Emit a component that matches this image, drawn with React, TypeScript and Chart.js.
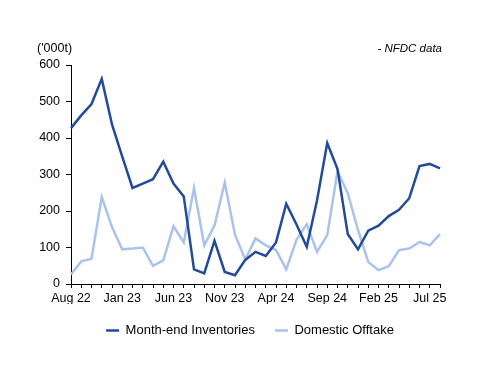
import React, { useEffect, useRef } from "react";
import { Chart, registerables } from "chart.js";

Chart.register(...registerables);

const months: string[] = [
  "Aug 22", "Sep 22", "Oct 22", "Nov 22", "Dec 22",
  "Jan 23", "Feb 23", "Mar 23", "Apr 23", "May 23",
  "Jun 23", "Jul 23", "Aug 23", "Sep 23", "Oct 23",
  "Nov 23", "Dec 23", "Jan 24", "Feb 24", "Mar 24",
  "Apr 24", "May 24", "Jun 24", "Jul 24", "Aug 24",
  "Sep 24", "Oct 24", "Nov 24", "Dec 24", "Jan 25",
  "Feb 25", "Mar 25", "Apr 25", "May 25", "Jun 25",
  "Jul 25", "Aug 25",
];

const shownTickLabels: string[] = [
  "Aug 22", "Jan 23", "Jun 23", "Nov 23", "Apr 24", "Sep 24", "Feb 25", "Jul 25",
];

const inventories: number[] = [
  427, 462, 493, 562, 437, 349, 263, 275, 287, 335,
  275, 240, 40, 29, 118, 33, 24, 66, 88, 77,
  114, 220, 163, 102, 229, 386, 315, 137, 95, 146,
  160, 186, 203, 235, 323, 329, 317,
];

const offtake: number[] = [
  26, 62, 69, 238, 156, 95, 97, 100, 50, 65,
  158, 114, 263, 106, 160, 278, 135, 67, 125, 106,
  93, 40, 121, 164, 88, 134, 309, 249, 148, 60,
  38, 49, 93, 97, 115, 106, 137,
];

const yTicks: number[] = [0, 100, 200, 300, 400, 500, 600];

const FONT = "'Liberation Sans', Arial, sans-serif";

export default function App() {
  const ref = useRef<HTMLCanvasElement | null>(null);

  useEffect(() => {
    if (!ref.current) return;
    const textPlugin = {
      id: "texts",
      afterDraw(chart: any) {
        const ctx = chart.ctx;
        ctx.save();
        ctx.fillStyle = "#000";
        ctx.textBaseline = "middle";
        ctx.font = `12.5px ${FONT}`;
        ctx.textAlign = "left";
        ctx.fillText("('000t)", 37, 49);
        ctx.font = `italic 11.5px ${FONT}`;
        ctx.textAlign = "right";
        ctx.fillText("- NFDC data", 442, 49);
        ctx.restore();
      },
    };

    const chart = new Chart(ref.current, {
      type: "line",
      data: {
        labels: months,
        datasets: [
          {
            label: "Month-end Inventories",
            data: inventories,
            borderColor: "#234B98",
            backgroundColor: "#234B98",
            borderWidth: 2.5,
            pointRadius: 0,
            tension: 0,
          },
          {
            label: "Domestic Offtake",
            data: offtake,
            borderColor: "#A9C3EA",
            backgroundColor: "#A9C3EA",
            borderWidth: 2.5,
            pointRadius: 0,
            tension: 0,
          },
        ],
      },
      options: {
        responsive: false,
        animation: false,
        devicePixelRatio: 1,
        layout: { padding: { top: 65, bottom: 39, left: 0, right: 0 } },
        plugins: {
          tooltip: { enabled: false },
          legend: {
            position: "bottom",
            labels: {
              color: "#000",
              font: { family: FONT, size: 13 },
              usePointStyle: true,
              pointStyle: "line",
              pointStyleWidth: 13,
              boxHeight: 13,
              padding: 20,
            },
          },
        },
        scales: {
          x: {
            type: "category",
            offset: false,
            grid: {
              display: true,
              drawOnChartArea: false,
              drawTicks: true,
              tickLength: 4,
              color: "#000",
              offset: false,
            },
            border: { display: true, color: "#000", width: 1 },
            ticks: {
              autoSkip: false,
              maxRotation: 0,
              minRotation: 0,
              padding: 3,
              color: "#000",
              font: { family: FONT, size: 12.5 },
              callback: (_v: any, i: number) =>
                shownTickLabels.includes(months[i]) ? months[i] : "",
            },
            afterFit: (s: any) => {
              s.height = 20;
            },
          },
          y: {
            min: yTicks[0],
            max: yTicks[yTicks.length - 1],
            grid: {
              display: true,
              drawOnChartArea: false,
              drawTicks: true,
              tickLength: 5,
              color: "#000",
            },
            border: { display: true, color: "#000", width: 1 },
            ticks: {
              stepSize: 100,
              padding: 6,
              color: "#000",
              font: { family: FONT, size: 12.5 },
            },
            afterFit: (s: any) => {
              s.width = 71;
            },
          },
          yRight: {
            position: "right",
            display: true,
            grid: { display: false },
            border: { display: false },
            ticks: { display: false },
            afterFit: (s: any) => {
              s.width = 60;
            },
          },
        },
      },
      plugins: [textPlugin],
    } as any);

    return () => chart.destroy();
  }, []);

  return (
    <div style={{ position: "absolute", left: 0, top: 0, width: 500, height: 386 }}>
      <canvas ref={ref} width={500} height={386} style={{ width: 500, height: 386 }} />
    </div>
  );
}
